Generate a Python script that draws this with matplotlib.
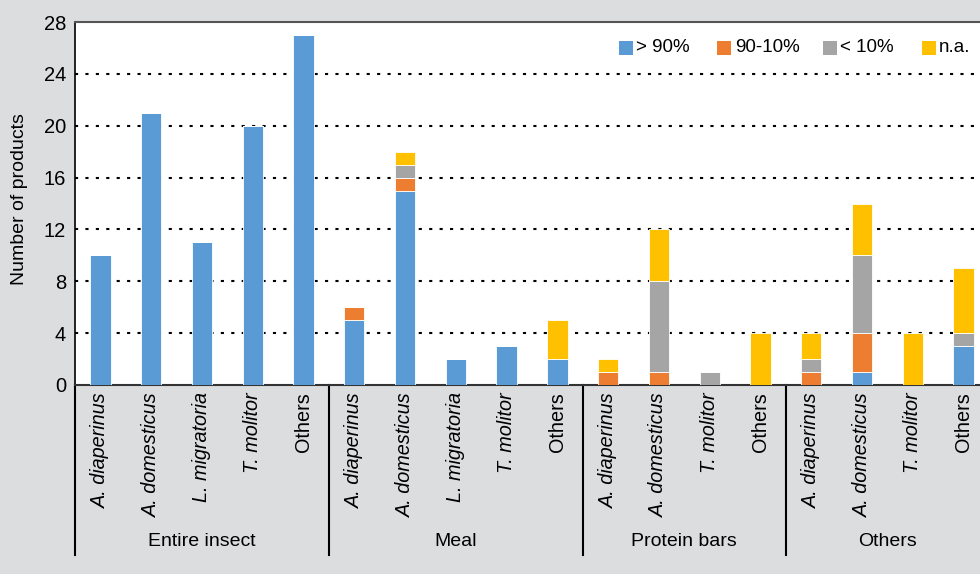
import matplotlib
matplotlib.use("Agg")
import matplotlib.pyplot as plt
from matplotlib.patches import Rectangle
import numpy as np

plt.rcParams['font.family'] = ["Liberation Sans", 'DejaVu Sans']

groups = ["Entire insect", "Meal", "Protein bars", "Others"]
group_sizes = [5, 5, 4, 4]
categories = ["A. diaperinus", "A. domesticus", "L. migratoria", "T. molitor", "Others",
              "A. diaperinus", "A. domesticus", "L. migratoria", "T. molitor", "Others",
              "A. diaperinus", "A. domesticus", "T. molitor", "Others",
              "A. diaperinus", "A. domesticus", "T. molitor", "Others"]
series_names = ["> 90%", "90-10%", "< 10%", "n.a."]
gt90 =   [10, 21, 11, 20, 27, 5, 15, 2, 3, 2, 0, 0, 0, 0, 0, 1, 0, 3]
mid =    [0, 0, 0, 0, 0,      1, 1, 0, 0, 0, 1, 1, 0, 0, 1, 3, 0, 0]
lt10 =   [0, 0, 0, 0, 0,      0, 1, 0, 0, 0, 0, 7, 1, 0, 1, 6, 0, 1]
na =     [0, 0, 0, 0, 0,      0, 1, 0, 0, 3, 1, 4, 0, 4, 2, 4, 4, 5]
colors = ["#5B9BD5", "#ED7D31", "#A5A5A5", "#FFC000"]
yticks = [0, 4, 8, 12, 16, 20, 24, 28]

W, H = 980, 574
fig = plt.figure(figsize=(W/100, H/100), dpi=100, facecolor="#dcdddf")
ax = fig.add_axes([75/W, 1-385/H, 914/W, 363/H])
ax.set_facecolor("white")

x = np.arange(len(categories))
bottom = np.zeros(len(categories))
for vals, c, n in zip([gt90, mid, lt10, na], colors, series_names):
    v = np.array(vals, dtype=float)
    ax.bar(x, v, 0.40, bottom=bottom, color=c, edgecolor="white", linewidth=0.6, label=n, zorder=3)
    bottom += v

ax.set_xlim(-0.5, len(categories) - 0.5)
ax.set_ylim(0, 28)
ax.set_yticks(yticks)
ax.set_yticklabels([str(t) for t in yticks], fontsize=14.5)
ax.tick_params(axis='y', length=0, pad=6.5)
ax.set_xticks([])
for t in yticks[1:-1]:
    ax.axhline(t, color="black", linestyle=(0, (1.5, 3.5)), linewidth=1.5, zorder=1)

ax.spines["right"].set_visible(False)
ax.spines["left"].set_color("black")
ax.spines["left"].set_linewidth(1.2)
ax.spines["bottom"].set_color("#333333")
ax.spines["bottom"].set_linewidth(1.5)
ax.spines["top"].set_color("#555555")
ax.spines["top"].set_linewidth(1.5)

ax.set_ylabel("Number of products", fontsize=14, va="center")
ax.yaxis.set_label_coords(-(75 - 20) / 914, (385 - 199) / 363)

trans = ax.get_xaxis_transform()
for i, lab in enumerate(categories):
    italic = lab != "Others"
    ax.text(i, -0.02, lab, rotation=90, ha="center", va="top", fontsize=14.3,
            style="italic" if italic else "normal", transform=trans)

bounds = np.concatenate([[0], np.cumsum(group_sizes)]) - 0.5
for b in bounds[:-1]:
    ax.plot([b, b], [0, -0.468], color="black", linewidth=1.5, transform=trans, clip_on=False)
for g, a, b in zip(groups, bounds[:-1], bounds[1:]):
    ax.text((a + b) / 2, -0.43, g, ha="center", va="center", fontsize=14, transform=trans)

# legend (manual placement)
sq_left = [619, 717, 823, 922]
txt_left = [636, 735, 840, 939]
for sl, tl, c, n in zip(sq_left, txt_left, colors, series_names):
    fig.add_artist(Rectangle((sl / W, 1 - 55 / H), 14 / W, 14 / H, facecolor=c,
                             edgecolor="none", transform=fig.transFigure))
    fig.text(tl / W, 1 - 48 / H, n, ha="left", va="center", fontsize=13.5)

fig.savefig("out.png", dpi=100, facecolor=fig.get_facecolor())
